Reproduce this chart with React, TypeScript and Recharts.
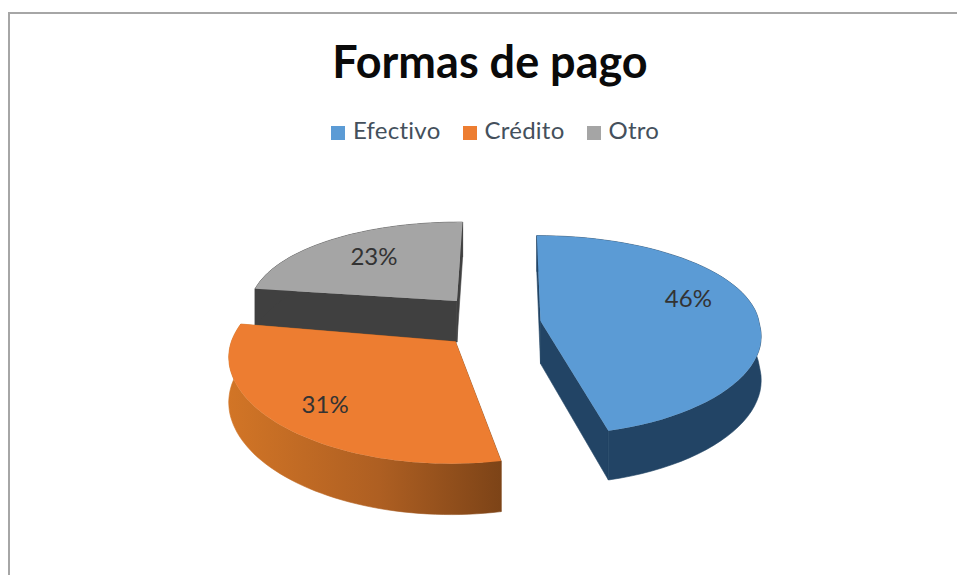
import React from "react";
import { PieChart, Pie, Legend } from "recharts";

const categories = ["Efectivo", "Crédito", "Otro"];
const shares = [46, 31, 23];
const topColors = ["#5B9BD5", "#ED7D31", "#A5A5A5"];
const drawOrder = [2, 0, 1]; // painter's order: the back slice goes first

const FONT = "Lato, 'Open Sans', sans-serif";
const EXPLODE_X = 51;
const DEPTH = 43;
const explodeZ = [67, 50, 75];
const sliceTurn = [0, 3, 1];
const sliceScale = [1, 1, 0.96];
const labelRadius = [0.74, 0.76, 0.7];
const labelTurn = [-13, 0, 3];

const table = drawOrder.map((i) => ({ name: categories[i], value: shares[i], fill: topColors[i] }));

const rad = (d: number) => (d * Math.PI) / 180;

function project(cx: number, cy: number, wx: number, z: number, h = 0) {
  const sx = z > 0 ? 1 + z / 1600 : 1 + z / 3000;
  const ky = z > 0 ? 0.44 * (1 + z / 1100) : 0.43 * (1 + z / 2500);
  return [cx + wx * sx, cy + z * ky + h * (1 + z / 1400)];
}

function slicePoint(p: any, theta: number, r: number, h = 0) {
  const i = categories.indexOf(p.payload?.name ?? p.name);
  const mid = 90 - p.midAngle;
  const turned = rad(theta + sliceTurn[i]);
  const rr = r * sliceScale[i];
  const wx = EXPLODE_X * Math.sin(rad(mid)) + rr * Math.sin(turned);
  const z = -explodeZ[i] * Math.cos(rad(mid)) - rr * Math.cos(turned);
  return project(p.cx, p.cy, wx, z, h);
}

const toPath = (pts: number[][]) =>
  "M" + pts.map((q) => `${q[0].toFixed(1)},${q[1].toFixed(1)}`).join("L") + "Z";

function Slice3D(p: any) {
  const t1 = 90 - p.startAngle;
  const t2 = 90 - p.endAngle;
  const R = p.outerRadius;
  const arc: number[][] = [];
  const low: number[][] = [];
  const steps = 60;
  for (let i = 0; i <= steps; i++) {
    const t = t1 + ((t2 - t1) * i) / steps;
    arc.push(slicePoint(p, t, R));
    low.push(slicePoint(p, t, R, DEPTH));
  }
  const apex = slicePoint(p, t1, 0);
  const apexLow = slicePoint(p, t1, 0, DEPTH);
  const name = p.payload?.name ?? p.name;
  const wallFill =
    name === "Efectivo" ? "#224465" : name === "Otro" ? "#404040" : "url(#wallOrange)";
  const top = toPath([apex, ...arc]);
  const outerWall = toPath([...arc, ...low.slice().reverse()]);
  const startWall = toPath([apex, arc[0], low[0], apexLow]);
  const endWall = toPath([apex, arc[steps], low[steps], apexLow]);
  return (
    <g>
      <defs>
        <linearGradient id="wallOrange" gradientUnits="userSpaceOnUse" x1="228" y1="0" x2="503" y2="0">
          <stop offset="0" stopColor="#D27526" />
          <stop offset="0.55" stopColor="#AE5F22" />
          <stop offset="1" stopColor="#7C4317" />
        </linearGradient>
      </defs>
      <path d={startWall} fill={wallFill} stroke={wallFill} strokeWidth={0.6} />
      <path d={endWall} fill={wallFill} stroke={wallFill} strokeWidth={0.6} />
      <path d={outerWall} fill={wallFill} stroke={wallFill} strokeWidth={0.6} />
      <path d={top} fill={p.fill} />
    </g>
  );
}

function SliceLabel(p: any) {
  const i = categories.indexOf(p.payload?.name ?? p.name);
  const [x, y] = slicePoint(p, 90 - p.midAngle + labelTurn[i], p.outerRadius * labelRadius[i]);
  return (
    <text x={x} y={y} textAnchor="middle" dominantBaseline="central" fontFamily={FONT} fontSize={24} fill="#333333">
      {`${p.value}%`}
    </text>
  );
}

const legendText = (value: string) => (
  <span
    style={{
      color: "#44505c",
      fontFamily: FONT,
      fontSize: 24,
      letterSpacing: 0.25,
      marginLeft: 4,
      marginRight: 12,
      position: "relative",
      top: 2,
    }}
  >
    {value}
  </span>
);

export default function App() {
  return (
    <div style={{ position: "absolute", left: 0, top: 0, width: 957, height: 575, overflow: "hidden", background: "#fff" }}>
      <div
        style={{
          position: "absolute",
          left: 8,
          top: 12,
          right: 0,
          bottom: 0,
          borderTop: "2px solid #a6a6a6",
          borderLeft: "2px solid #a6a6a6",
        }}
      />
      <div style={{ position: "absolute", left: 0, top: 0 }}>
        <PieChart width={957} height={575} margin={{ top: 0, right: 0, bottom: 0, left: 0 }}>
          <text x={490} y={78} textAnchor="middle" fontFamily={FONT} fontWeight={700} fontSize={45} fill="#0a0a0a">
            Formas de pago
          </text>
          <Legend
            verticalAlign="top"
            align="left"
            iconType="square"
            iconSize={14}
            formatter={legendText as any}
            itemSorter={((e: any) => categories.indexOf(e.value)) as any}
            wrapperStyle={{ left: 331, top: 113, width: 400, whiteSpace: "nowrap", textAlign: "left" }}
          />
          <Pie
            data={table}
            dataKey="value"
            nameKey="name"
            cx={490}
            cy={295.5}
            innerRadius={0}
            outerRadius={219}
            startAngle={90 - (360 * (shares[0] + shares[1])) / 100}
            endAngle={90 - (360 * (shares[0] + shares[1])) / 100 - 360}
            paddingAngle={0}
            stroke="none"
            shape={Slice3D as any}
            label={SliceLabel as any}
            labelLine={false}
            isAnimationActive={false}
            rootTabIndex={-1}
          />
        </PieChart>
      </div>
    </div>
  );
}
